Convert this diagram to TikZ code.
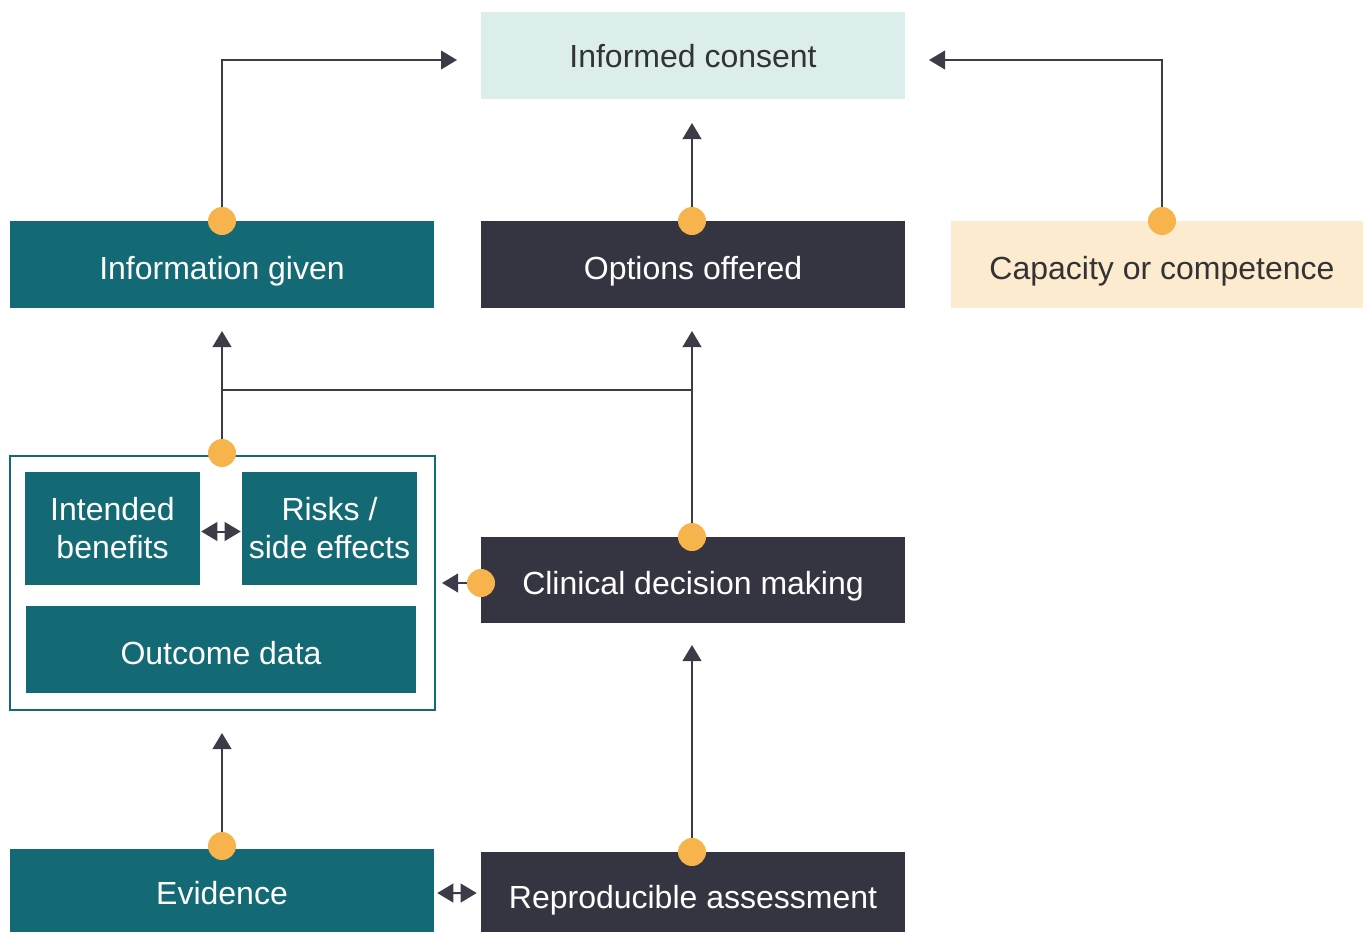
\documentclass[tikz,border=0pt]{standalone}
\usepackage{fontspec}
\setmainfont{Liberation Sans}
\usetikzlibrary{arrows.meta}
\definecolor{teal1}{HTML}{136A74}
\definecolor{dark1}{HTML}{343541}
\definecolor{light1}{HTML}{DCEEEC}
\definecolor{cream1}{HTML}{FDEBD0}
\definecolor{dot1}{HTML}{F7B34C}
\definecolor{line1}{HTML}{3B3C48}
\definecolor{txt1}{HTML}{333333}
\begin{document}
\begin{tikzpicture}[x=0.75pt,y=-0.75pt,
  box/.style={rectangle,inner sep=0pt,align=center,font=\fontsize{24}{28.5}\selectfont},
  one/.style={text height=#1,text depth=0pt},
  tealbox/.style={box,fill=teal1,text=white},
  darkbox/.style={box,fill=dark1,text=white},
  dotn/.style={circle,fill=dot1,inner sep=0pt,minimum size=21pt},
  conn/.style={draw=line1,line width=1.5pt,-{Triangle[length=12pt,width=14pt]}},
  dbl/.style={draw=line1,line width=1.5pt,{Triangle[length=12pt,width=14pt]}-{Triangle[length=12pt,width=14pt]}}
]
\useasboundingbox (0,0) rectangle (1363,933);
% boxes
\node[box,one=18pt,fill=light1,text=txt1,minimum width=318pt,minimum height=65.25pt] (ic) at (693,55.5) {Informed consent};
\node[tealbox,one=22.4pt,minimum width=318pt,minimum height=65.25pt] (ig) at (222,264.5) {Information given};
\node[darkbox,one=22.4pt,minimum width=318pt,minimum height=65.25pt] (oo) at (693,264.5) {Options offered};
\node[box,one=22.4pt,fill=cream1,text=txt1,minimum width=309pt,minimum height=65.25pt] (cc) at (1157,264.5) {\hspace*{7.5pt}Capacity or competence};
\node[rectangle,draw=teal1,line width=1.5pt,inner sep=0pt,minimum width=318.75pt,minimum height=190.5pt] (grp) at (222.5,583) {};
\node[tealbox,minimum width=131.25pt,minimum height=84.75pt] (ib) at (112.5,528.5) {Intended\\benefits};
\node[tealbox,minimum width=131.25pt,minimum height=84.75pt] (rs) at (329.5,528.5) {Risks /\\side effects};
\node[tealbox,one=22.4pt,minimum width=292.5pt,minimum height=65.25pt] (od) at (221,649.5) {Outcome data};
\node[darkbox,one=21.7pt,minimum width=318pt,minimum height=64.5pt] (cd) at (693,580) {Clinical decision making};
\node[tealbox,one=21pt,minimum width=318pt,minimum height=62.25pt] (ev) at (222,890.5) {Evidence};
\node[darkbox,one=24.7pt,minimum width=318pt,minimum height=60pt] (ra) at (693,892) {Reproducible assessment};
% coordinates
\coordinate (t1) at (457,60);
\coordinate (t2) at (929,60);
\coordinate (t3) at (692,123);
\coordinate (t4) at (222,331);
\coordinate (t5) at (692,331);
\coordinate (t6) at (442,583);
\coordinate (t7) at (222,733);
\coordinate (t8) at (692,645);
\coordinate (j1) at (222,390);
\coordinate (j2) at (692,390);
\coordinate (d1c) at (222,221);
\coordinate (d2c) at (692,221);
\coordinate (d3c) at (1162,221);
\coordinate (d4c) at (222,453);
\coordinate (d5c) at (692,537);
\coordinate (d6c) at (481,583);
\coordinate (d7c) at (222,846);
\coordinate (d8c) at (692,852);
% connectors
\draw[conn] (d1c) |- (t1);
\draw[conn] (d3c) |- (t2);
\draw[conn] (d2c) -- (t3);
\draw[conn] (d4c) -- (t4);
\draw[conn] (d5c) -- (t5);
\draw[draw=line1,line width=1.5pt] (j1) -- (j2);
\draw[conn] (d6c) -- (t6);
\draw[conn] (d7c) -- (t7);
\draw[conn] (d8c) -- (t8);
\draw[dbl,shorten <=0.75pt,shorten >=0.75pt] ([yshift=-2.25pt]ib.east) -- ([yshift=-2.25pt]rs.west);
\draw[dbl,shorten <=2.25pt,shorten >=3pt] ([yshift=-1.9pt]ev.east) -- ([yshift=-0.75pt]ra.west);
% dots
\node[dotn] (d1) at (d1c) {};
\node[dotn] (d2) at (d2c) {};
\node[dotn] (d3) at (d3c) {};
\node[dotn] (d4) at (d4c) {};
\node[dotn] (d5) at (d5c) {};
\node[dotn] (d6) at (d6c) {};
\node[dotn] (d7) at (d7c) {};
\node[dotn] (d8) at (d8c) {};
\end{tikzpicture}
\end{document}
